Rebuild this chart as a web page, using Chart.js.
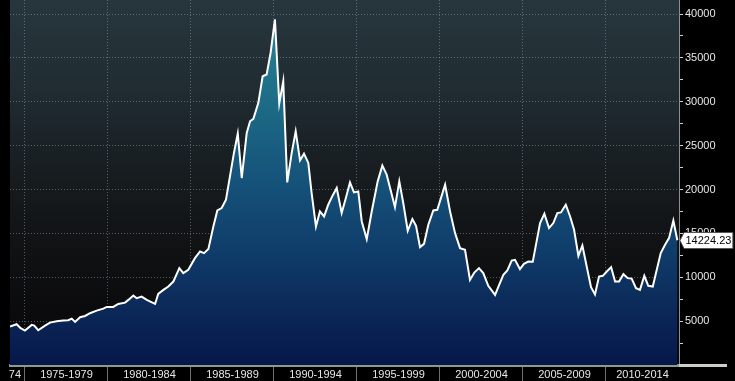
<!DOCTYPE html>
<html>
<head>
<meta charset="utf-8">
<script src="https://cdn.jsdelivr.net/npm/chart.js@4.4.1/dist/chart.umd.min.js"></script>
<style>
  html, body { margin: 0; padding: 0; background: #000; }
  #wrap { width: 735px; height: 381px; }
</style>
</head>
<body>
<div id="wrap"><canvas id="nikkei-chart" width="735" height="381"></canvas></div>
<script>
// Nikkei 225, quarterly closes (x in decimal years)
const years = [
  1974.10, 1974.50, 1974.74, 1975.00, 1975.41, 1975.56, 1975.80, 1976.21, 1976.51, 1976.91,
  1977.31, 1977.61, 1977.82, 1978.02, 1978.32, 1978.62, 1978.92, 1979.32, 1979.72, 1979.93,
  1980.32, 1980.62, 1981.03, 1981.23, 1981.53, 1981.73, 1982.03, 1982.34, 1982.84, 1983.03,
  1983.34, 1983.64, 1983.94, 1984.30, 1984.54, 1984.84, 1985.24, 1985.55, 1985.79, 1986.05,
  1986.35, 1986.59, 1986.85, 1987.11, 1987.35, 1987.59, 1987.82, 1988.06, 1988.36, 1988.56,
  1988.76, 1989.06, 1989.32, 1989.56, 1989.80, 1990.06, 1990.32, 1990.56, 1990.80, 1991.07,
  1991.31, 1991.57, 1991.81, 1992.07, 1992.27, 1992.53, 1992.77, 1993.02, 1993.27, 1993.53,
  1993.78, 1994.08, 1994.34, 1994.58, 1994.82, 1995.08, 1995.29, 1995.59, 1995.89, 1996.25,
  1996.53, 1996.79, 1997.05, 1997.29, 1997.55, 1997.79, 1998.06, 1998.34, 1998.56, 1998.80,
  1999.04, 1999.30, 1999.60, 1999.84, 2000.31, 2000.61, 2000.91, 2001.21, 2001.51, 2001.81,
  2002.07, 2002.35, 2002.61, 2002.91, 2003.32, 2003.56, 2003.82, 2004.06, 2004.32, 2004.52,
  2004.82, 2005.06, 2005.32, 2005.59, 2006.03, 2006.29, 2006.57, 2006.83, 2007.07, 2007.29,
  2007.58, 2007.84, 2008.08, 2008.34, 2008.58, 2008.84, 2009.10, 2009.34, 2009.58, 2009.81,
  2010.05, 2010.31, 2010.55, 2010.79, 2011.05, 2011.31, 2011.55, 2011.81, 2012.05, 2012.31,
  2012.55, 2012.82, 2013.06, 2013.30, 2013.56, 2013.80, 2014.06, 2014.30
];
const closes = [
  4370, 4650, 4190, 3920, 4570, 4490, 3960, 4490, 4830, 4990,
  5060, 5100, 5290, 4910, 5440, 5590, 5900, 6200, 6430, 6620,
  6620, 6960, 7110, 7420, 7910, 7610, 7800, 7420, 6960, 8100,
  8560, 8940, 9510, 11040, 10470, 10850, 12180, 12940, 12750, 13210,
  15790, 17610, 17890, 18840, 21500, 24170, 26370, 21310, 26450, 27780,
  28050, 29880, 32910, 33110, 35590, 39390, 29800, 32340, 20810, 24170,
  26630, 23320, 24090, 23030, 19600, 15790, 17500, 16930, 18270, 19300,
  20170, 17320, 19100, 20810, 19670, 19780, 16360, 14350, 17500, 20930,
  22720, 21690, 19780, 18000, 20930, 18460, 15300, 16630, 15870, 13440,
  13810, 15980, 17610, 17690, 20550, 17500, 15030, 13320, 13130, 9700,
  10540, 11040, 10470, 9020, 7990, 9100, 10270, 10770, 11910, 11990,
  10930, 11530, 11790, 11760, 16180, 17240, 15610, 16180, 17320, 17390,
  18270, 16930, 15410, 12440, 13620, 11220, 8870, 8050, 10080, 10160,
  10650, 11150, 9510, 9510, 10350, 9900, 9850, 8760, 8560, 10160,
  9020, 8940, 10850, 12750, 13700, 14460, 16470, 14224.23
];

// period separators and the labels centred between them
const periodBounds = [1975, 1980, 1985, 1990, 1995, 2000, 2005, 2010];
const periodMids = [1974.4, 1977.5, 1982.5, 1987.5, 1992.5, 1997.5, 2002.5, 2007.5, 2012.2];
const periodLabels = ['74', '1975-1979', '1980-1984', '1985-1989', '1990-1994',
  '1995-1999', '2000-2004', '2005-2009', '2010-2014'];

const yTicks = [2500, 5000, 7500, 10000, 12500, 15000, 17500, 20000, 22500,
  25000, 27500, 30000, 32500, 35000, 37500, 40000];

const GRID_DOT = 'rgba(165,180,190,0.45)';
const FONT = '"Liberation Sans", Arial, sans-serif';

const backdrop = {
  id: 'backdrop',
  beforeDraw(chart) {
    const { ctx, chartArea: a } = chart;
    ctx.save();
    ctx.fillStyle = '#000';
    ctx.fillRect(0, 0, chart.width, chart.height);
    const g = ctx.createLinearGradient(0, a.top, 0, a.bottom);
    g.addColorStop(0, '#27363d');
    g.addColorStop(0.25, '#202c32');
    g.addColorStop(0.45, '#181e22');
    g.addColorStop(0.65, '#111315');
    g.addColorStop(0.85, '#0b0b0d');
    g.addColorStop(1, '#09090c');
    ctx.fillStyle = g;
    ctx.fillRect(a.left, a.top, a.right - a.left, a.bottom - a.top);
    ctx.restore();
  }
};

const lastValueTag = {
  id: 'lastValueTag',
  afterDraw(chart) {
    const { ctx, chartArea: a } = chart;
    // bottom bar runs on under the value axis
    ctx.save();
    ctx.fillStyle = '#c9d0c9';
    ctx.fillRect(a.right, a.bottom - 1, 48, 3);

    const meta = chart.getDatasetMeta(0);
    const pt = meta.data[meta.data.length - 1];
    const text = closes[closes.length - 1].toFixed(2);
    ctx.font = '11px ' + FONT;
    const w = ctx.measureText(text).width + 3;
    const h = 16;
    const tip = a.right + 1;
    const left = tip + 4;
    const y = Math.round(pt.y) + 0.5;
    ctx.beginPath();
    ctx.moveTo(tip, y);
    ctx.lineTo(left, y - h / 2);
    ctx.lineTo(left + w, y - h / 2);
    ctx.lineTo(left + w, y + h / 2);
    ctx.lineTo(left, y + h / 2);
    ctx.closePath();
    ctx.fillStyle = '#ffffff';
    ctx.fill();
    ctx.strokeStyle = '#555';
    ctx.lineWidth = 1;
    ctx.stroke();
    ctx.fillStyle = '#000';
    ctx.textBaseline = 'middle';
    ctx.textAlign = 'left';
    ctx.fillText(text, left + 1.5, y + 0.5);
    ctx.restore();
  }
};

const canvas = document.getElementById('nikkei-chart');
new Chart(canvas.getContext('2d'), {
  type: 'line',
  data: {
    datasets: [{
      data: years.map((yr, i) => ({ x: yr, y: closes[i] })),
      borderColor: '#ffffff',
      borderWidth: 2,
      pointRadius: 0,
      tension: 0,
      fill: 'origin',
      backgroundColor: (c) => {
        const area = c.chart.chartArea;
        if (!area) return 'rgba(0,0,0,0)';
        const g = c.chart.ctx.createLinearGradient(0, area.top, 0, area.bottom);
        g.addColorStop(0, '#2b8898');
        g.addColorStop(0.25, '#1e6f88');
        g.addColorStop(0.5, '#15527a');
        g.addColorStop(0.7, '#0f3b69');
        g.addColorStop(0.85, '#0b2858');
        g.addColorStop(1, '#07174a');
        return g;
      }
    }]
  },
  options: {
    responsive: false,
    animation: false,
    devicePixelRatio: 1,
    layout: { padding: { left: 10, top: 0, right: 0, bottom: 0 } },
    plugins: {
      legend: { display: false },
      tooltip: { enabled: false }
    },
    scales: {
      x: {
        type: 'linear',
        min: 1974.1,
        max: 2014.4,
        z: 1,
        afterBuildTicks: (scale) => {
          scale.ticks = periodBounds.concat(periodMids)
            .sort((p, q) => p - q)
            .map(v => ({ value: v }));
        },
        afterFit: (scale) => {
          scale.height = 16;
          scale.paddingLeft = 0;
          scale.paddingRight = 0;
        },
        grid: {
          color: (c) => (c.tick && periodBounds.includes(c.tick.value)) ? GRID_DOT : 'transparent',
          tickColor: (c) => (c.tick && periodBounds.includes(c.tick.value)) ? '#6e6e6e' : 'transparent',
          tickLength: 16,
          lineWidth: 1
        },
        border: { display: true, color: '#8d9b8d', width: 3, dash: [1, 2] },
        ticks: {
          autoSkip: false,
          maxRotation: 0,
          padding: -13,
          color: '#e6e6e6',
          font: { family: FONT, size: 11 },
          callback: (v) => {
            const i = periodMids.indexOf(v);
            return i >= 0 ? periodLabels[i] : '';
          }
        }
      },
      y: {
        position: 'right',
        min: 0,
        max: 41600,
        z: 1,
        afterBuildTicks: (scale) => {
          scale.ticks = yTicks.map(v => ({ value: v }));
        },
        afterFit: (scale) => {
          scale.width = 56;
          scale.paddingTop = 0;
          scale.paddingBottom = 0;
        },
        grid: {
          color: (c) => (c.tick && c.tick.value % 5000 === 0) ? GRID_DOT : 'transparent',
          tickColor: '#cfcfcf',
          tickLength: 4,
          lineWidth: 1
        },
        border: { display: true, color: '#8a9094', width: 1, dash: [1, 2] },
        ticks: {
          padding: 2,
          color: '#e6e6e6',
          font: { family: FONT, size: 11 },
          callback: (v) => (v % 5000 === 0 ? String(v) : '')
        }
      }
    }
  },
  plugins: [backdrop, lastValueTag]
});
</script>
</body>
</html>
